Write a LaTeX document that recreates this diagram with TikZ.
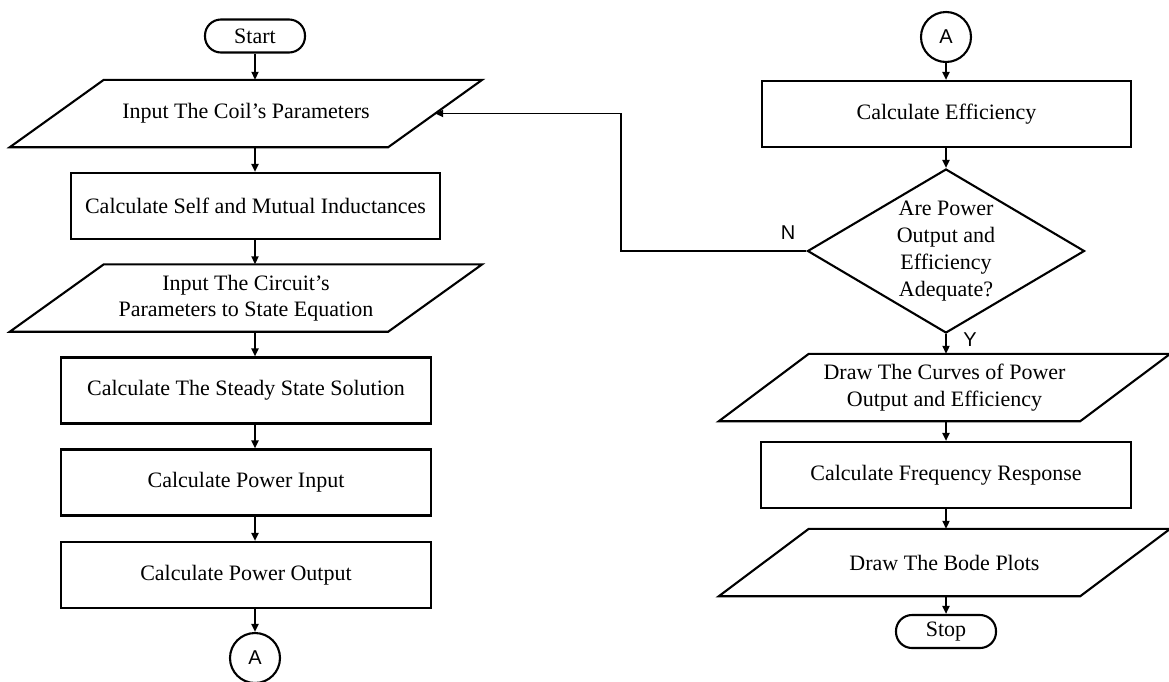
\documentclass[tikz,border=0pt]{standalone}
\usepackage{fontspec}
\setmainfont{Liberation Serif}
\newfontfamily\lblfont{Liberation Sans}
\usetikzlibrary{arrows.meta,shapes.geometric}
\newcommand\mypara[2]{\draw[shape line] ([xshift=-#2pt]#1.south west) -- ([xshift=-#2pt]#1.south east) -- ([xshift=#2pt]#1.north east) -- ([xshift=#2pt]#1.north west) -- cycle;}
\begin{document}
\begin{tikzpicture}[x=1pt,y=-1pt,
  font=\fontsize{22}{26.5}\selectfont,
  shape line/.style={line width=2.1pt, line join=miter},
  procbox/.style={draw, line width=2.1pt, rectangle, minimum width=369pt, minimum height=66pt, inner sep=0pt, align=center},
  iobox/.style={rectangle, minimum height=67pt, inner sep=0pt, align=center},
  termbox/.style={draw, line width=2.1pt, rectangle, rounded corners=16pt, minimum width=100pt, minimum height=33pt, inner sep=0pt},
  conn/.style={draw, line width=2.1pt, circle, minimum size=50pt, inner sep=0pt, font=\lblfont\fontsize{20}{24}\selectfont},
  decbox/.style={draw, line width=2.1pt, diamond, aspect=1.69, minimum width=277pt, minimum height=164pt, inner sep=0pt, align=center},
  arr/.style={line width=1.9pt, -{Triangle[length=8pt,width=7pt]}},
  lbl/.style={font=\lblfont\fontsize{20}{24}\selectfont, inner sep=0pt}
]
\useasboundingbox (0,0) rectangle (1169,681);

% left column
\node[termbox] (start) at (255,36) {Start};
\node[iobox, minimum width=378pt] (p1) at (246,113.5) {Input The Coil’s Parameters};
\node[procbox] (self) at (255.5,206) {Calculate Self and Mutual Inductances};
\node[iobox, minimum width=378pt] (p2) at (246,298) {Input The Circuit’s\\Parameters to State Equation};
\node[procbox, minimum width=370pt] (steady) at (246,390.5) {Calculate The Steady State Solution};
\node[procbox, minimum width=370pt] (pin) at (246,482.5) {Calculate Power Input};
\node[procbox, minimum width=370pt] (pout) at (246,575) {Calculate Power Output};
\node[conn] (a1) at (255,658) {A};
\mypara{p1}{47}
\mypara{p2}{47}

% right column
\node[conn] (a2) at (946,37) {A};
\node[procbox] (eff) at (946.5,114) {Calculate Efficiency};
\node[decbox, font=\fontsize{22}{27}\selectfont] (dec) at (946,251) {Are Power\\Output and\\Efficiency\\Adequate?};
\node[iobox, minimum width=361pt] (p3) at (944.5,387.5) {Draw The Curves of Power\\Output and Efficiency};
\node[procbox, minimum width=370pt] (freq) at (946,475) {Calculate Frequency Response};
\node[iobox, minimum width=361pt] (p4) at (944.5,562.5) {Draw The Bode Plots};
\node[termbox] (stop) at (946,631.5) {Stop};
\mypara{p3}{45}
\mypara{p4}{45}

% labels
\node[lbl] (nlab) at (788,233) {N};
\node[lbl] (ylab) at (970,340) {Y};

% connectors left
\draw[arr] (start.south) -- (start.south |- p1.north);
\draw[arr] (start.south |- p1.south) -- (start.south |- self.north);
\draw[arr] (start.south |- self.south) -- (start.south |- p2.north);
\draw[arr] (start.south |- p2.south) -- (start.south |- steady.north);
\draw[arr] (start.south |- steady.south) -- (start.south |- pin.north);
\draw[arr] (start.south |- pin.south) -- (start.south |- pout.north);
\draw[arr] (start.south |- pout.south) -- (a1.north);

% connectors right
\draw[arr] (a2.south) -- (a2.south |- eff.north);
\draw[arr] (a2.south |- eff.south) -- (dec.north);
\draw[arr] (dec.south) -- (dec.south |- p3.north);
\draw[arr] (dec.south |- p3.south) -- (dec.south |- freq.north);
\draw[arr] (dec.south |- freq.south) -- (dec.south |- p4.north);
\draw[arr] (dec.south |- p4.south) -- (stop.north);

% feedback
\coordinate (fb) at (621,251);
\draw[arr, line join=miter] (dec.west) -- (fb) |- (p1.east);
\end{tikzpicture}
\end{document}
